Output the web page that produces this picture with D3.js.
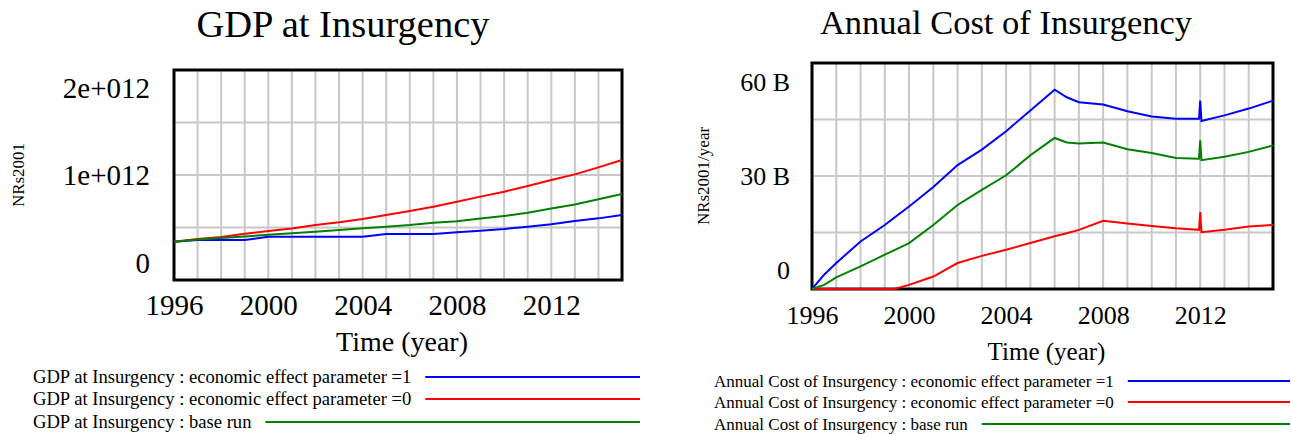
<!DOCTYPE html>
<html>
<head>
<meta charset="utf-8">
<script src="https://cdnjs.cloudflare.com/ajax/libs/d3/7.8.5/d3.min.js"></script>
<style>
  body { margin: 0; background: #fff; }
  svg { display: block; }
  svg text { font-family: "Liberation Serif", "Times New Roman", serif; fill: #000; }
  .grid line { stroke: #c8c8c8; stroke-width: 2; }
  .series { fill: none; stroke-width: 2; }
</style>
</head>
<body>
<svg width="1291" height="434"></svg>
<script>

// ---- data ----
var years = d3.range(1996, 2016);
var tickYears = [1996, 2000, 2004, 2008, 2012];

// GDP at Insurgency (NRs2001), one value per year
var gdpEffect1 = [0.365e12, 0.381e12, 0.381e12, 0.381e12, 0.413e12, 0.413e12, 0.413e12, 0.413e12, 0.413e12, 0.438e12,
                  0.438e12, 0.438e12, 0.454e12, 0.470e12, 0.486e12, 0.508e12, 0.530e12, 0.562e12, 0.587e12, 0.619e12];
var gdpEffect0 = [0.365e12, 0.390e12, 0.410e12, 0.440e12, 0.467e12, 0.490e12, 0.524e12, 0.549e12, 0.581e12, 0.619e12,
                  0.657e12, 0.698e12, 0.746e12, 0.794e12, 0.841e12, 0.895e12, 0.952e12, 1.006e12, 1.073e12, 1.143e12];
var gdpBase    = [0.365e12, 0.385e12, 0.400e12, 0.415e12, 0.430e12, 0.445e12, 0.460e12, 0.476e12, 0.492e12, 0.508e12,
                  0.524e12, 0.545e12, 0.560e12, 0.585e12, 0.610e12, 0.640e12, 0.680e12, 0.720e12, 0.770e12, 0.820e12];
var gdpTickLabels = ["0", "1e+012", "2e+012"];

// Annual Cost of Insurgency (NRs2001/year)
var costTimes   = [1996, 1996.5, 1997, 1998, 1999, 1999.4, 2000, 2001, 2002, 2003, 2004, 2005, 2006, 2006.5, 2007,
                   2008, 2009, 2010, 2011, 2011.95, 2012, 2012.05, 2013, 2014, 2015];
var costEffect1 = [0, 3.8, 6.9, 12.6, 17.0, 19.0, 21.9, 27.1, 32.9, 37.0, 41.9, 47.4, 52.9, 50.9, 49.6,
                   49.0, 47.2, 45.8, 45.2, 45.2, 50.0, 44.6, 46.1, 47.9, 50.0];
var costEffect0 = [0, 0, 0, 0, 0, 0, 1.1, 3.3, 6.9, 8.8, 10.4, 12.2, 14.0, 14.8, 15.7,
                   18.1, 17.4, 16.7, 16.1, 15.7, 20.4, 15.1, 15.7, 16.6, 17.0];
var costBase    = [0, 1.1, 3.1, 6.0, 9.1, 10.3, 12.2, 17.0, 22.3, 26.3, 30.2, 35.5, 40.1, 38.9, 38.6,
                   38.9, 37.1, 36.1, 34.8, 34.6, 39.5, 34.2, 35.1, 36.4, 38.1];
var costTickLabels = ["0", "30 B", "60 B"];

var runNames = ["economic effect parameter =1", "economic effect parameter =0", "base run"];
var runColors = ["#0000ff", "#ff0000", "#008000"];

var svg = d3.select("svg");

drawChart({
    title: "GDP at Insurgency", titleX: 343, titleSize: 38.5, titleY: 37,
    yTitle: "NRs2001", yTitleX: 18,
    box: {left: 174, right: 622, top: 70, bottom: 280},
    yMax: 2e12, yLabels: gdpTickLabels, labelSize: 29, labelGap: 24,
    times: years,
    series: [gdpEffect1, gdpEffect0, gdpBase], scale: 1,
    legendX: 33, legendY: [377, 399, 422], legendEnd: 640, legendSize: 18.6
});

drawChart({
    title: "Annual Cost of Insurgency", titleX: 1006, titleSize: 34.5, titleY: 34,
    yTitle: "NRs2001/year", yTitleX: 703,
    box: {left: 812, right: 1273, top: 63, bottom: 289},
    yMax: 60e9, yLabels: costTickLabels, labelSize: 26, labelGap: 22,
    times: costTimes,
    series: [costEffect1, costEffect0, costBase], scale: 1e9,
    legendX: 714, legendY: [381, 402, 424], legendEnd: 1290, legendSize: 17
});

function drawChart(c) {
    var b = c.box,
        w = b.right - b.left,
        h = b.bottom - b.top;

    var x = d3.scaleLinear().domain([1996, 2015]).range([b.left, b.right]);
    var y = d3.scaleLinear().domain([0, c.yMax]).range([b.bottom, b.top]);

    // title
    svg.append("text")
        .attr("x", c.titleX).attr("y", c.titleY)
        .attr("text-anchor", "middle")
        .style("font-size", c.titleSize + "px")
        .text(c.title);

    // grid: every year, y in quarters
    var grid = svg.append("g").attr("class", "grid");
    grid.selectAll(".v")
        .data(d3.range(1997, 2015))
        .enter().append("line")
        .attr("x1", function(d) { return x(d); }).attr("x2", function(d) { return x(d); })
        .attr("y1", b.top).attr("y2", b.bottom);
    grid.selectAll(".h")
        .data([0.25, 0.5, 0.75])
        .enter().append("line")
        .attr("x1", b.left).attr("x2", b.right)
        .attr("y1", function(d) { return y(d * c.yMax); })
        .attr("y2", function(d) { return y(d * c.yMax); });

    // frame (lines go on top of it, as in the original)
    svg.append("rect")
        .attr("x", b.left).attr("y", b.top)
        .attr("width", w).attr("height", h)
        .attr("fill", "none").attr("stroke", "#000").attr("stroke-width", 3);

    // lines
    var line = d3.line()
        .x(function(d) { return x(d[0]); })
        .y(function(d) { return y(d[1]); });

    c.series.forEach(function(vals, i) {
        var pts = c.times.map(function(t, j) { return [t, vals[j] * c.scale]; });
        svg.append("path")
            .attr("class", "series")
            .attr("stroke", runColors[i])
            .attr("d", line(pts));
    });

    // y axis labels (top and bottom pulled inside the frame)
    var yAxis = d3.axisLeft(y)
        .tickValues([0, c.yMax / 2, c.yMax])
        .tickSize(0)
        .tickFormat(function(d, i) { return c.yLabels[i]; });
    var ya = svg.append("g")
        .attr("transform", "translate(" + (b.left - c.labelGap) + ",0)")
        .call(yAxis);
    ya.attr("font-family", null).attr("font-size", null);
    ya.select(".domain").remove();
    ya.selectAll("text")
        .attr("x", 0)
        .attr("dy", function(d, i) { return i == 0 ? -h / 12 + c.labelSize * 0.33 : i == 2 ? h / 12 + c.labelSize * 0.33 : c.labelSize * 0.33; })
        .style("font-size", c.labelSize + "px");

    // x axis labels
    var xAxis = d3.axisBottom(x).tickValues(tickYears).tickSize(0).tickFormat(d3.format("d"));
    var xa = svg.append("g")
        .attr("transform", "translate(0," + b.bottom + ")")
        .call(xAxis);
    xa.attr("font-family", null).attr("font-size", null);
    xa.select(".domain").remove();
    xa.selectAll("text")
        .attr("y", 35).attr("dy", 0)
        .style("font-size", c.labelSize + "px");

    svg.append("text")
        .attr("x", b.left + w / 2 + 4).attr("y", b.bottom + 71)
        .attr("text-anchor", "middle")
        .style("font-size", (c.labelSize - 1) + "px")
        .text("Time (year)");

    // y title
    var yMid = b.top + h / 2;
    svg.append("text")
        .attr("transform", "translate(" + (c.yTitleX + 6) + "," + yMid + ") rotate(-90)")
        .attr("text-anchor", "middle")
        .style("font-size", "17px")
        .text(c.yTitle);

    // legend
    runNames.forEach(function(name, i) {
        var t = svg.append("text")
            .attr("x", c.legendX).attr("y", c.legendY[i] + 6)
            .style("font-size", c.legendSize + "px")
            .text(c.title + " : " + name);
        var end = c.legendX + t.node().getComputedTextLength();
        svg.append("line")
            .attr("x1", end + 14).attr("x2", c.legendEnd)
            .attr("y1", c.legendY[i]).attr("y2", c.legendY[i])
            .attr("stroke", runColors[i]).attr("stroke-width", 2);
    });
}
</script>
</body>
</html>
